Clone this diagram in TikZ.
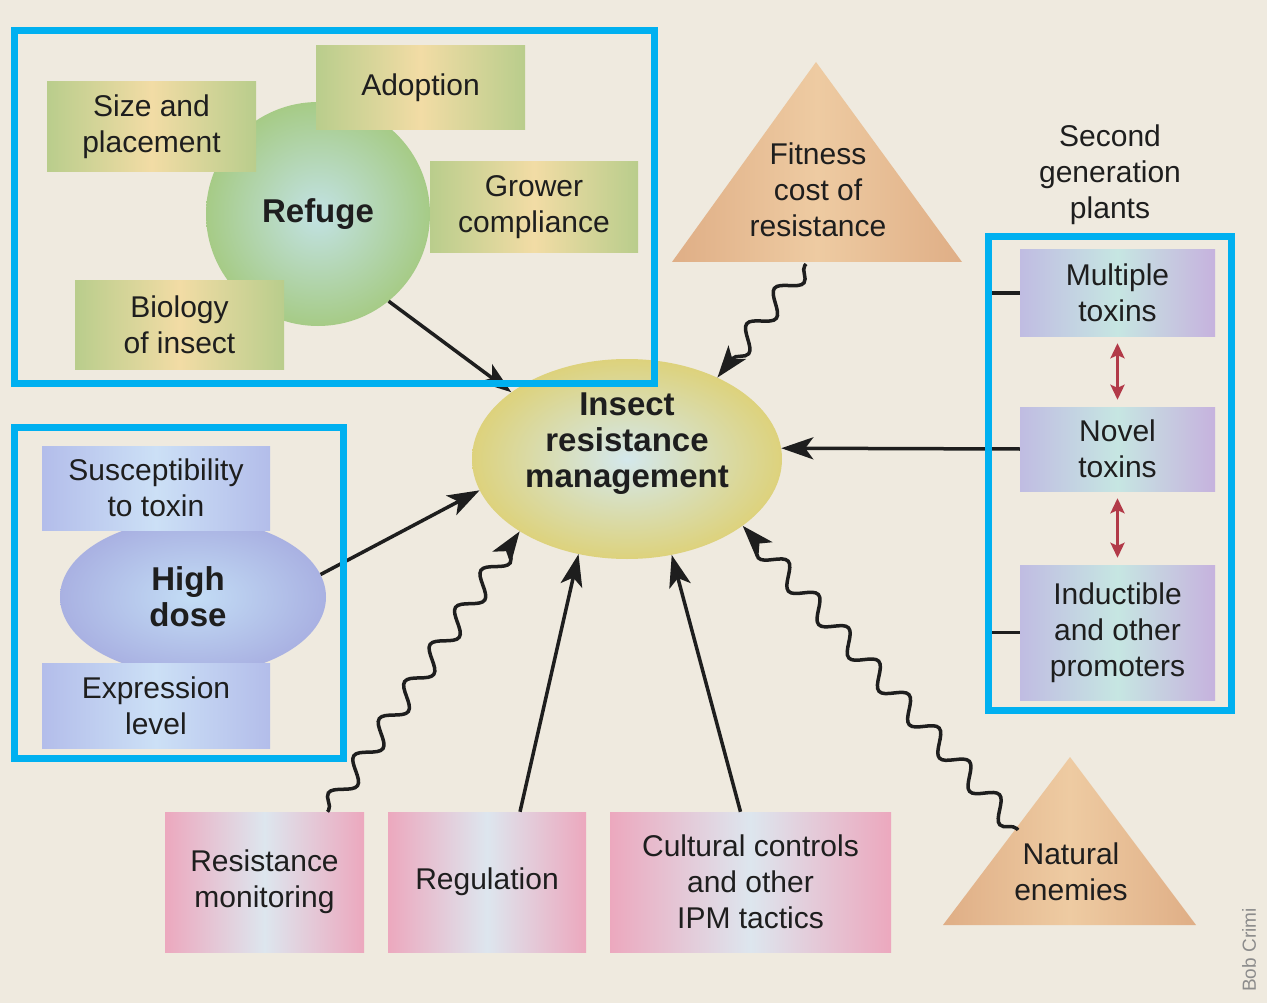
\documentclass[tikz,border=0pt]{standalone}
\usepackage{fontspec}
\setmainfont{Liberation Sans}
\usetikzlibrary{arrows.meta,decorations.pathmorphing,shapes.geometric}

\definecolor{bg}{HTML}{EFEADF}
\definecolor{frameblue}{HTML}{00B0F0}
\definecolor{grEdge}{HTML}{B9CD8C}
\definecolor{grMid}{HTML}{F2DCA5}
\definecolor{refIn}{HTML}{C2E2E4}
\definecolor{refOut}{HTML}{A6CB86}
\definecolor{irmIn}{HTML}{D4E8EC}
\definecolor{irmOut}{HTML}{DDD27C}
\definecolor{hdIn}{HTML}{C3DDF5}
\definecolor{hdOut}{HTML}{A9B1E2}
\definecolor{blEdge}{HTML}{B3BDEA}
\definecolor{blMid}{HTML}{CCE0F6}
\definecolor{puLeft}{HTML}{C0BCE2}
\definecolor{puMid}{HTML}{C6E6E2}
\definecolor{puRight}{HTML}{C6B2DE}
\definecolor{pkEdge}{HTML}{ECA8BE}
\definecolor{pkMid}{HTML}{DDE6EE}
\definecolor{triEdge}{HTML}{DFAE86}
\definecolor{triMid}{HTML}{EECBA2}
\definecolor{dblred}{HTML}{B23A48}
\definecolor{ink}{HTML}{1E1E1E}

\begin{document}
\begin{tikzpicture}[x=1pt,y=-1pt,
  txt/.style={font=\fontsize{30}{36}\selectfont, align=center, text=ink, inner sep=0pt},
  boldtxt/.style={font=\fontsize{33}{36}\selectfont\bfseries, align=center, text=ink, inner sep=0pt},
  box/.style={rectangle, txt},
  greenbox/.style={box, left color=grEdge, right color=grEdge, middle color=grMid},
  bluebox/.style={box, left color=blEdge, right color=blEdge, middle color=blMid},
  purplebox/.style={box, left color=puLeft, right color=puRight, middle color=puMid},
  pinkbox/.style={box, left color=pkEdge, right color=pkEdge, middle color=pkMid},
  arr/.style={line width=3.5pt, draw=ink, -{Stealth[length=32pt,width=22pt,inset=8pt]}},
  wavy/.style={arr, decorate, decoration={snake, amplitude=10pt, segment length=45pt,
      pre length=2pt, post length=16pt}},
  plainline/.style={line width=3.5pt, draw=ink},
  redarr/.style={line width=3pt, draw=dblred,
      {Stealth[length=15pt,width=14pt,inset=3pt]}-{Stealth[length=15pt,width=14pt,inset=3pt]}},
  hilite/.style={draw=frameblue, line width=7pt}
]
% canvas
\fill[bg] (0,0) rectangle (1267,1003);
\useasboundingbox (0,0) rectangle (1267,1003);

% refuge cluster
\node[circle, minimum size=224pt, inner color=refIn, outer color=refOut, boldtxt] (refuge) at (318,214) {Refuge};
\node[greenbox, minimum width=209pt, minimum height=90pt] (sizeplace) at (151.5,127) {Size and\\placement};
\node[greenbox, minimum width=209pt, minimum height=84pt] (adoption) at (420.5,88) {Adoption};
\node[greenbox, minimum width=208pt, minimum height=91pt] (grower) at (534,207.5) {Grower\\compliance};
\node[greenbox, minimum width=209pt, minimum height=88pt] (biology) at (179.5,325) {Biology\\of insect};

% high dose cluster
\node[ellipse, minimum width=266pt, minimum height=156pt, inner color=hdIn, outer color=hdOut] (highdose) at (193,597) {};
\node[boldtxt] (highdosetxt) at (188,597) {High\\dose};
\node[bluebox, minimum width=228pt, minimum height=84pt] (suscept) at (156,488) {Susceptibility\\to toxin};
\node[bluebox, minimum width=228pt, minimum height=85pt] (expression) at (156,705.5) {Expression\\level};

% central goal
\node[ellipse, minimum width=310pt, minimum height=200pt, inner color=irmIn, outer color=irmOut] (irm) at (627,459) {};
\node[boldtxt] (irmtxt) at (627,444) {Insect\\resistance\\management};

% fitness cost
\shade[left color=triEdge, right color=triEdge, middle color=triMid] (672,262) -- (816,62) -- (962,262) -- cycle;
\node[txt] (fitness) at (818,190) {Fitness\\cost of\\resistance};
\coordinate (fitstart) at (806,264);

% second generation plants
\node[txt] (secondgen) at (1110,175) {Second\\generation\\plants};
\node[purplebox, minimum width=195pt, minimum height=86pt] (multiple) at (1117.5,293) {Multiple\\toxins};
\node[purplebox, minimum width=195pt, minimum height=84pt] (novel) at (1117.5,449) {Novel\\toxins};
\node[purplebox, minimum width=195pt, minimum height=135pt] (inductible) at (1117.5,632.5) {Inductible\\and other\\promoters};

% bottom tactics
\node[pinkbox, minimum width=199pt, minimum height=140pt] (resmon) at (264.5,882) {Resistance\\monitoring};
\node[pinkbox, minimum width=198pt, minimum height=140pt] (regulation) at (487,882) {Regulation};
\node[pinkbox, minimum width=281pt, minimum height=140pt] (cultural) at (750.5,882) {Cultural controls\\and other\\IPM tactics};

% natural enemies
\shade[left color=triEdge, right color=triEdge, middle color=triMid] (943,925) -- (1070,757) -- (1196,925) -- cycle;
\node[txt] (natural) at (1071,872) {Natural\\enemies};
\coordinate (natstart) at (1018,830);

% credit
\node[rotate=90, font=\fontsize{19}{19}\selectfont, text=black!45] (credit) at (1249,950) {Bob Crimi};

% connectors
\draw[arr] (refuge.-51) -- (irm.150);
\draw[arr] (highdose.10) -- (irm.192);
\draw[arr] (novel.west) -- (irm.4);
\draw[plainline] (multiple.west) -- ++(-30,0) |- (inductible.west);
\draw[redarr] ([yshift=-7pt]multiple.south) -- ([yshift=7pt]novel.north);
\draw[redarr] ([yshift=-7pt]novel.south) -- ([yshift=7pt]inductible.north);
\draw[wavy] (fitstart) -- (irm.42);
\draw[wavy] ([xshift=63pt]resmon.north) -- (irm.214);
\draw[arr] ([xshift=33pt]regulation.north) -- (irm.243);
\draw[arr] ([xshift=-10pt]cultural.north) -- (irm.-65);
\draw[wavy] (natstart) -- (irm.-30);

% highlight frames
\draw[hilite] (14,31) rectangle (654,383);
\draw[hilite] (14,427) rectangle (343,758);
\draw[hilite] (988,237) rectangle (1231,710);
\end{tikzpicture}
\end{document}
